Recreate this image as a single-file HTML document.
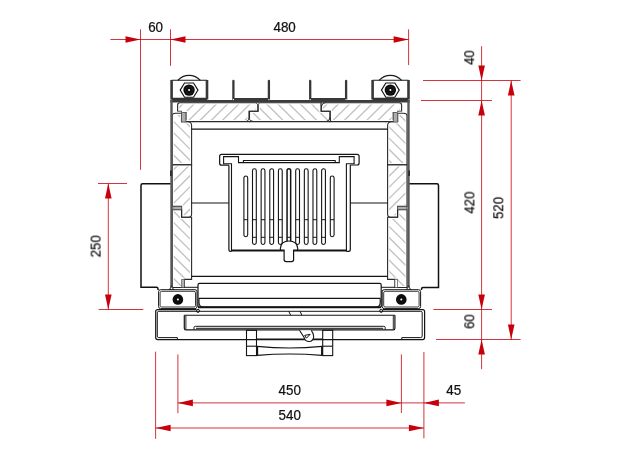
<!DOCTYPE html><html><head><meta charset="utf-8"><style>html,body{margin:0;padding:0;background:#fff;}svg{display:block;font-family:"Liberation Sans",sans-serif;}</style></head><body><svg width="624" height="460" viewBox="0 0 624 460" font-family="Liberation Sans, sans-serif"><defs><clipPath id="c1"><path d="M177.6,111.3 H181.5 V112.6 H186 V121.6 H249 V111.3 H258 V102.8 H180 Q177.6,102.8 177.6,105 Z"/></clipPath><clipPath id="c2"><path d="M258,102.8 H321.2 V111.3 H330 V121.6 H249.5 V111.3 H258 Z"/></clipPath><clipPath id="c3"><path d="M401.6,111.3 H397.7 V112.6 H393.2 V121.6 H330.2 V111.3 H321.2 V102.8 H399.2 Q401.6,102.8 401.6,105 Z"/></clipPath><clipPath id="c4"><path d="M172.2,164.7 V116 Q172.2,113.3 175.5,113.3 H181.5 V121.8 H187.5 Q191.6,121.8 191.6,125.5 V164.7 Z"/></clipPath><clipPath id="c5"><path d="M172.2,164.7 H191.6 V214 Q191.6,217.2 188.5,217.2 H181.6 V206.4 H172.2 Z"/></clipPath><clipPath id="c6"><path d="M172.2,209.7 H181.6 V217.2 H191.6 V279.4 H184.3 V287.5 H172.2 Z"/></clipPath><clipPath id="c7"><path d="M 407.0,164.7 V 116 Q 407.0,113.3 403.7,113.3 H 397.7 V 121.8 H 391.7 Q 387.6,121.8 387.6,125.5 V 164.7 Z"/></clipPath><clipPath id="c8"><path d="M 407.0,164.7 H 387.6 V 214 Q 387.6,217.2 390.7,217.2 H 397.6 V 206.4 H 407.0 Z"/></clipPath><clipPath id="c9"><path d="M 407.0,209.7 H 397.6 V 217.2 H 387.6 V 279.4 H 394.9 V 287.5 H 407.0 Z"/></clipPath></defs><path clip-path="url(#c1)" d="M164.40,100L140.40,124M175.60,100L151.60,124M186.80,100L162.80,124M198.00,100L174.00,124M209.20,100L185.20,124M220.40,100L196.40,124M231.60,100L207.60,124M242.80,100L218.80,124M254.00,100L230.00,124M265.20,100L241.20,124M276.40,100L252.40,124" stroke="#c2c2c2" stroke-width="1.35" fill="none"/>
<path clip-path="url(#c2)" d="M217.90,100L241.90,124M229.10,100L253.10,124M240.30,100L264.30,124M251.50,100L275.50,124M262.70,100L286.70,124M273.90,100L297.90,124M285.10,100L309.10,124M296.30,100L320.30,124M307.50,100L331.50,124M318.70,100L342.70,124M329.90,100L353.90,124" stroke="#c2c2c2" stroke-width="1.35" fill="none"/>
<path clip-path="url(#c3)" d="M319.90,100L295.90,124M331.10,100L307.10,124M342.30,100L318.30,124M353.50,100L329.50,124M364.70,100L340.70,124M375.90,100L351.90,124M387.10,100L363.10,124M398.30,100L374.30,124M409.50,100L385.50,124M420.70,100L396.70,124" stroke="#c2c2c2" stroke-width="1.35" fill="none"/>
<path d="M177.6,111.3 H181.5 V112.6 H186 V121.6 H249 V111.3 H258 V102.8 H180 Q177.6,102.8 177.6,105 Z" stroke="#fff" stroke-width="3.2" fill="none" />
<path d="M258,102.8 H321.2 V111.3 H330 V121.6 H249.5 V111.3 H258 Z" stroke="#fff" stroke-width="3.2" fill="none" />
<path d="M401.6,111.3 H397.7 V112.6 H393.2 V121.6 H330.2 V111.3 H321.2 V102.8 H399.2 Q401.6,102.8 401.6,105 Z" stroke="#fff" stroke-width="3.2" fill="none" />
<path d="M177.6,111.3 H181.5 V112.6 H186 V121.6 H249 V111.3 H258 V102.8 H180 Q177.6,102.8 177.6,105 Z" stroke="#2a2a2a" stroke-width="1.1" fill="none" />
<path d="M258,102.8 H321.2 V111.3 H330 V121.6 H249.5 V111.3 H258 Z" stroke="#2a2a2a" stroke-width="1.1" fill="none" />
<path d="M401.6,111.3 H397.7 V112.6 H393.2 V121.6 H330.2 V111.3 H321.2 V102.8 H399.2 Q401.6,102.8 401.6,105 Z" stroke="#2a2a2a" stroke-width="1.1" fill="none" />
<polygon points="255.6,102.7 260.2,102.7 257.9,104.8" fill="#fff"/>
<path d="M255.8,102.6 L257.9,104.6 L259.9,102.6" stroke="#333" stroke-width="0.9" fill="none" />
<polygon points="246.6,121.1 252.8,121.1 249.0,118.6" fill="#fff"/>
<path d="M246.4,121.3 Q249,120.5 249,118.4 Q249,120.5 252.8,121.3" stroke="#333" stroke-width="0.9" fill="none" />
<polygon points="321.7,102.7 325.4,102.7 321.7,105.6" fill="#fff"/>
<path d="M321.6,106 Q321.8,102.9 325.6,102.6" stroke="#222" stroke-width="1.0" fill="none" />
<polygon points="326.6,121.1 329.9,121.1 329.9,118.0" fill="#fff"/>
<path d="M326.4,121.3 Q329.6,120.9 329.9,117.8 Q330.1,120.9 331.5,121.4" stroke="#222" stroke-width="1.0" fill="none" />
<path clip-path="url(#c4)" d="M106.10,110L163.10,167M117.30,110L174.30,167M128.50,110L185.50,167M139.70,110L196.70,167M150.90,110L207.90,167M162.10,110L219.10,167M173.30,110L230.30,167M184.50,110L241.50,167" stroke="#c2c2c2" stroke-width="1.35" fill="none"/>
<path clip-path="url(#c5)" d="M158.90,162L100.90,220M170.10,162L112.10,220M181.30,162L123.30,220M192.50,162L134.50,220M203.70,162L145.70,220M214.90,162L156.90,220M226.10,162L168.10,220M237.30,162L179.30,220M248.50,162L190.50,220" stroke="#c2c2c2" stroke-width="1.35" fill="none"/>
<path clip-path="url(#c6)" d="M77.70,205L162.70,290M88.90,205L173.90,290M100.10,205L185.10,290M111.30,205L196.30,290M122.50,205L207.50,290M133.70,205L218.70,290M144.90,205L229.90,290M156.10,205L241.10,290M167.30,205L252.30,290M178.50,205L263.50,290M189.70,205L274.70,290" stroke="#c2c2c2" stroke-width="1.35" fill="none"/>
<path clip-path="url(#c7)" d="M316.10,110L373.10,167M327.30,110L384.30,167M338.50,110L395.50,167M349.70,110L406.70,167M360.90,110L417.90,167M372.10,110L429.10,167M383.30,110L440.30,167M394.50,110L451.50,167M405.70,110L462.70,167" stroke="#c2c2c2" stroke-width="1.35" fill="none"/>
<path clip-path="url(#c8)" d="M380.80,162L322.80,220M392.00,162L334.00,220M403.20,162L345.20,220M414.40,162L356.40,220M425.60,162L367.60,220M436.80,162L378.80,220M448.00,162L390.00,220M459.20,162L401.20,220" stroke="#c2c2c2" stroke-width="1.35" fill="none"/>
<path clip-path="url(#c9)" d="M289.25,205L374.25,290M300.45,205L385.45,290M311.65,205L396.65,290M322.85,205L407.85,290M334.05,205L419.05,290M345.25,205L430.25,290M356.45,205L441.45,290M367.65,205L452.65,290M378.85,205L463.85,290M390.05,205L475.05,290M401.25,205L486.25,290" stroke="#c2c2c2" stroke-width="1.35" fill="none"/>
<path d="M172.2,164.7 V116 Q172.2,113.3 175.5,113.3 H181.5 V121.8 H187.5 Q191.6,121.8 191.6,125.5 V164.7 Z" stroke="#fff" stroke-width="3.2" fill="none" />
<path d="M172.2,164.7 H191.6 V214 Q191.6,217.2 188.5,217.2 H181.6 V206.4 H172.2 Z" stroke="#fff" stroke-width="3.2" fill="none" />
<path d="M172.2,209.7 H181.6 V217.2 H191.6 V279.4 H184.3 V287.5 H172.2 Z" stroke="#fff" stroke-width="3.2" fill="none" />
<path d="M 407.0,164.7 V 116 Q 407.0,113.3 403.7,113.3 H 397.7 V 121.8 H 391.7 Q 387.6,121.8 387.6,125.5 V 164.7 Z" stroke="#fff" stroke-width="3.2" fill="none" />
<path d="M 407.0,164.7 H 387.6 V 214 Q 387.6,217.2 390.7,217.2 H 397.6 V 206.4 H 407.0 Z" stroke="#fff" stroke-width="3.2" fill="none" />
<path d="M 407.0,209.7 H 397.6 V 217.2 H 387.6 V 279.4 H 394.9 V 287.5 H 407.0 Z" stroke="#fff" stroke-width="3.2" fill="none" />
<path d="M172.2,164.7 V116 Q172.2,113.3 175.5,113.3 H181.5 V121.8 H187.5 Q191.6,121.8 191.6,125.5 V164.7 Z" stroke="#2a2a2a" stroke-width="1.1" fill="none" />
<path d="M172.2,164.7 H191.6 V214 Q191.6,217.2 188.5,217.2 H181.6 V206.4 H172.2 Z" stroke="#2a2a2a" stroke-width="1.1" fill="none" />
<path d="M172.2,209.7 H181.6 V217.2 H191.6 V279.4 H184.3 V287.5 H172.2 Z" stroke="#2a2a2a" stroke-width="1.1" fill="none" />
<path d="M 407.0,164.7 V 116 Q 407.0,113.3 403.7,113.3 H 397.7 V 121.8 H 391.7 Q 387.6,121.8 387.6,125.5 V 164.7 Z" stroke="#2a2a2a" stroke-width="1.1" fill="none" />
<path d="M 407.0,164.7 H 387.6 V 214 Q 387.6,217.2 390.7,217.2 H 397.6 V 206.4 H 407.0 Z" stroke="#2a2a2a" stroke-width="1.1" fill="none" />
<path d="M 407.0,209.7 H 397.6 V 217.2 H 387.6 V 279.4 H 394.9 V 287.5 H 407.0 Z" stroke="#2a2a2a" stroke-width="1.1" fill="none" />
<line x1="185.8" y1="121.6" x2="194.0" y2="121.6" stroke="#2a2a2a" stroke-width="1.1" />
<line x1="393.4" y1="121.6" x2="385.2" y2="121.6" stroke="#2a2a2a" stroke-width="1.1" />
<rect x="181.6" y="112.4" width="4.2" height="9.6" rx="0" stroke="#555" stroke-width="0.7" fill="#adadad"/>
<rect x="393.4" y="112.4" width="4.2" height="9.6" rx="0" stroke="#555" stroke-width="0.7" fill="#adadad"/>
<rect x="172.8" y="206.6" width="8.8" height="2.8" rx="0" stroke="#555" stroke-width="0.7" fill="#adadad"/>
<rect x="397.6" y="206.6" width="8.8" height="2.8" rx="0" stroke="#555" stroke-width="0.7" fill="#adadad"/>
<rect x="181.7" y="279.6" width="2.6" height="7.8" rx="0" stroke="#555" stroke-width="0.7" fill="#b4b4b4"/>
<rect x="394.9" y="279.6" width="2.6" height="7.8" rx="0" stroke="#555" stroke-width="0.7" fill="#ffffff"/>
<line x1="170.4" y1="101.25" x2="409.6" y2="101.25" stroke="#3c3c3c" stroke-width="2.6" />
<line x1="171.5" y1="100" x2="171.5" y2="289" stroke="#585858" stroke-width="2.4" />
<line x1="408.5" y1="100" x2="408.5" y2="289" stroke="#585858" stroke-width="2.4" />
<line x1="170.9" y1="170.5" x2="170.9" y2="176" stroke="#222" stroke-width="1.6" />
<line x1="409.1" y1="170.5" x2="409.1" y2="176" stroke="#222" stroke-width="1.6" />
<path d="M170.5,183.8 H142.6 Q141,183.8 141,185.4 V287.3 H156.4 Q158,287.3 158,288.9 V290" stroke="#111" stroke-width="1.5" fill="none" />
<path d="M409.5,183.8 H436.9 Q438.5,183.8 438.5,185.4 V287.5 H423.1 Q421.5,287.5 421.5,289.1 V290" stroke="#111" stroke-width="1.5" fill="none" />
<path d="M167.5,289.8 Q170.5,289 170.7,285.5 H172.3 Q172.5,289 175.5,289.8 Z" fill="#333"/>
<circle cx="171.5" cy="288.4" r="0.9" fill="#fff"/>
<path d="M404.5,289.8 Q407.5,289 407.7,285.5 H409.3 Q409.5,289 412.5,289.8 Z" fill="#333"/>
<circle cx="408.5" cy="288.4" r="0.9" fill="#fff"/>
<line x1="171.6" y1="80.3" x2="207.0" y2="80.3" stroke="#1a1a1a" stroke-width="1.1" />
<line x1="171.6" y1="80" x2="171.6" y2="99.5" stroke="#383838" stroke-width="2.6" />
<line x1="207.0" y1="80" x2="207.0" y2="99.5" stroke="#383838" stroke-width="2.6" />
<line x1="171.6" y1="99.0" x2="207.0" y2="99.0" stroke="#333" stroke-width="2.4" />
<path d="M177.8,80.3 A15.2,15.2 0 0 1 200.3,80.3" stroke="#1a1a1a" stroke-width="1.25" fill="none" />
<polygon points="180.15,90.1 184.55,83.0 193.55,83.0 197.95,90.1 193.55,97.2 184.55,97.2" fill="none" stroke="#141414" stroke-width="1.15"/>
<circle cx="189.05" cy="90.1" r="5.7" stroke="#141414" stroke-width="0" fill="#0c0c0c"/>
<circle cx="189.05" cy="90.1" r="3.6" stroke="#2e2e2e" stroke-width="0.5" fill="none"/>
<circle cx="189.05" cy="90.1" r="1.0" stroke="#fff" stroke-width="0" fill="#fff"/>
<line x1="372.6" y1="80.3" x2="408.5" y2="80.3" stroke="#1a1a1a" stroke-width="1.1" />
<line x1="372.6" y1="80" x2="372.6" y2="99.5" stroke="#383838" stroke-width="2.6" />
<line x1="408.5" y1="80" x2="408.5" y2="99.5" stroke="#383838" stroke-width="2.6" />
<line x1="372.6" y1="99.0" x2="408.5" y2="99.0" stroke="#333" stroke-width="2.4" />
<path d="M379.1,80.3 A15.2,15.2 0 0 1 401.6,80.3" stroke="#1a1a1a" stroke-width="1.25" fill="none" />
<polygon points="381.45,90.1 385.85,83.0 394.85,83.0 399.25,90.1 394.85,97.2 385.85,97.2" fill="none" stroke="#141414" stroke-width="1.15"/>
<circle cx="390.35" cy="90.1" r="5.7" stroke="#141414" stroke-width="0" fill="#0c0c0c"/>
<circle cx="390.35" cy="90.1" r="3.6" stroke="#2e2e2e" stroke-width="0.5" fill="none"/>
<circle cx="390.35" cy="90.1" r="1.0" stroke="#fff" stroke-width="0" fill="#fff"/>
<line x1="233.4" y1="81" x2="233.4" y2="99.5" stroke="#383838" stroke-width="2.3" stroke-linecap="round"/>
<line x1="268.9" y1="81" x2="268.9" y2="99.5" stroke="#383838" stroke-width="2.3" stroke-linecap="round"/>
<line x1="310.2" y1="81" x2="310.2" y2="99.5" stroke="#383838" stroke-width="2.3" stroke-linecap="round"/>
<line x1="346.1" y1="81" x2="346.1" y2="99.5" stroke="#383838" stroke-width="2.3" stroke-linecap="round"/>
<line x1="233.4" y1="99.1" x2="268.9" y2="99.1" stroke="#383838" stroke-width="2.1" />
<circle cx="233.4" cy="99.6" r="0.7" fill="#fff"/>
<circle cx="268.9" cy="99.6" r="0.7" fill="#fff"/>
<line x1="310.2" y1="99.1" x2="346.1" y2="99.1" stroke="#383838" stroke-width="2.1" />
<circle cx="310.2" cy="99.6" r="0.7" fill="#fff"/>
<circle cx="346.1" cy="99.6" r="0.7" fill="#fff"/>
<path d="M191.6,129 H387.6" stroke="#141414" stroke-width="1.25" fill="none" />
<line x1="191.6" y1="203" x2="228.9" y2="203" stroke="#141414" stroke-width="1.2" />
<line x1="387.6" y1="203" x2="350.3" y2="203" stroke="#141414" stroke-width="1.2" />
<line x1="191.6" y1="276.4" x2="387.6" y2="276.4" stroke="#141414" stroke-width="1.2" />
<path d="M228.9,165.2 H221.6 Q219.65,165.2 219.65,163.2 V156.3 Q219.65,154.3 221.65,154.3 H357.1 Q359.1,154.3 359.1,156.3 V163 Q359.1,165 357.1,165 H350.3" stroke="#141414" stroke-width="1.2" fill="none" />
<path d="M228.9,165.2 V249.4 Q228.9,251.3 230.8,251.3 H231.6" stroke="#141414" stroke-width="1.2" fill="none" />
<path d="M350.3,165 V249.4 Q350.3,251.3 348.4,251.3 H346.4" stroke="#141414" stroke-width="1.2" fill="none" />
<line x1="231.0" y1="250.5" x2="347.0" y2="250.5" stroke="#141414" stroke-width="1.9" />
<path d="M231.5,250 V163.7 H223.6 V156.6 H238.5 V162.6 H339.3 V156.6 H354.1 V163.8 H346.4 V250" stroke="#141414" stroke-width="1.1" fill="none" />
<path d="M243.4,162.6 V160.4 H335.2 V162.6" stroke="#141414" stroke-width="1.05" fill="none" />
<path d="M243.9,234.79999999999998 V177.9 A1.9,1.9 0 0 1 247.70000000000002,177.9 V234.79999999999998 A1.9,1.9 0 0 1 243.9,234.79999999999998 Z" stroke="#141414" stroke-width="1.1" fill="none" />
<line x1="243.9" y1="219.7" x2="247.70000000000002" y2="219.7" stroke="#141414" stroke-width="1.0" />
<path d="M330.3,234.79999999999998 V177.9 A1.9,1.9 0 0 1 334.1,177.9 V234.79999999999998 A1.9,1.9 0 0 1 330.3,234.79999999999998 Z" stroke="#141414" stroke-width="1.1" fill="none" />
<line x1="330.3" y1="219.7" x2="334.1" y2="219.7" stroke="#141414" stroke-width="1.0" />
<path d="M252.5,242.6 V170.70000000000002 A1.9,1.9 0 0 1 256.3,170.70000000000002 V242.6 A1.9,1.9 0 0 1 252.5,242.6 Z" stroke="#141414" stroke-width="1.1" fill="none" />
<line x1="252.5" y1="219.7" x2="256.3" y2="219.7" stroke="#141414" stroke-width="1.0" />
<line x1="252.5" y1="237.3" x2="256.3" y2="237.3" stroke="#141414" stroke-width="1.0" />
<path d="M261.14,242.6 V170.70000000000002 A1.9,1.9 0 0 1 264.94,170.70000000000002 V242.6 A1.9,1.9 0 0 1 261.14,242.6 Z" stroke="#141414" stroke-width="1.1" fill="none" />
<line x1="261.14" y1="219.7" x2="264.94" y2="219.7" stroke="#141414" stroke-width="1.0" />
<line x1="261.14" y1="237.3" x2="264.94" y2="237.3" stroke="#141414" stroke-width="1.0" />
<path d="M269.78,242.6 V170.70000000000002 A1.9,1.9 0 0 1 273.58,170.70000000000002 V242.6 A1.9,1.9 0 0 1 269.78,242.6 Z" stroke="#141414" stroke-width="1.1" fill="none" />
<line x1="269.78" y1="219.7" x2="273.58" y2="219.7" stroke="#141414" stroke-width="1.0" />
<line x1="269.78" y1="237.3" x2="273.58" y2="237.3" stroke="#141414" stroke-width="1.0" />
<path d="M278.42,242.6 V170.70000000000002 A1.9,1.9 0 0 1 282.22,170.70000000000002 V242.6 A1.9,1.9 0 0 1 278.42,242.6 Z" stroke="#141414" stroke-width="1.1" fill="none" />
<line x1="278.42" y1="219.7" x2="282.22" y2="219.7" stroke="#141414" stroke-width="1.0" />
<line x1="278.42" y1="237.3" x2="282.22" y2="237.3" stroke="#141414" stroke-width="1.0" />
<path d="M287.06,242.7 V170.60000000000002 A1.8,1.8 0 0 1 290.66,170.60000000000002 V242.7 A1.8,1.8 0 0 1 287.06,242.7 Z" stroke="#141414" stroke-width="1.5" fill="none" />
<line x1="287.06" y1="237.3" x2="290.66" y2="237.3" stroke="#141414" stroke-width="1.0" />
<path d="M295.7,242.6 V170.70000000000002 A1.9,1.9 0 0 1 299.5,170.70000000000002 V242.6 A1.9,1.9 0 0 1 295.7,242.6 Z" stroke="#141414" stroke-width="1.1" fill="none" />
<line x1="295.7" y1="219.7" x2="299.5" y2="219.7" stroke="#141414" stroke-width="1.0" />
<line x1="295.7" y1="237.3" x2="299.5" y2="237.3" stroke="#141414" stroke-width="1.0" />
<path d="M304.34,242.6 V170.70000000000002 A1.9,1.9 0 0 1 308.14,170.70000000000002 V242.6 A1.9,1.9 0 0 1 304.34,242.6 Z" stroke="#141414" stroke-width="1.1" fill="none" />
<line x1="304.34" y1="219.7" x2="308.14" y2="219.7" stroke="#141414" stroke-width="1.0" />
<line x1="304.34" y1="237.3" x2="308.14" y2="237.3" stroke="#141414" stroke-width="1.0" />
<path d="M312.98,242.6 V170.70000000000002 A1.9,1.9 0 0 1 316.78000000000003,170.70000000000002 V242.6 A1.9,1.9 0 0 1 312.98,242.6 Z" stroke="#141414" stroke-width="1.1" fill="none" />
<line x1="312.98" y1="219.7" x2="316.78000000000003" y2="219.7" stroke="#141414" stroke-width="1.0" />
<line x1="312.98" y1="237.3" x2="316.78000000000003" y2="237.3" stroke="#141414" stroke-width="1.0" />
<path d="M321.62,242.6 V170.70000000000002 A1.9,1.9 0 0 1 325.42,170.70000000000002 V242.6 A1.9,1.9 0 0 1 321.62,242.6 Z" stroke="#141414" stroke-width="1.1" fill="none" />
<line x1="321.62" y1="219.7" x2="325.42" y2="219.7" stroke="#141414" stroke-width="1.0" />
<line x1="321.62" y1="237.3" x2="325.42" y2="237.3" stroke="#141414" stroke-width="1.0" />
<path d="M284.1,250.2 H281.6 Q280.3,250.2 280.3,248.5 Q281,241 289,241 Q297.1,241 297.8,248.5 Q297.8,250.2 296.5,250.2 H293.6 V259.6 Q293.6,261.6 291.6,261.6 H286.1 Q284.1,261.6 284.1,259.6 Z" stroke="#141414" stroke-width="1.2" fill="#fff" />
<path d="M198,307 V285 Q198,283.4 199.6,283.4 H379.6 Q381.2,283.4 381.2,285 V307" stroke="#141414" stroke-width="1.2" fill="none" />
<path d="M198.8,298.4 H380.4" stroke="#141414" stroke-width="1.1" fill="none" />
<path d="M199,298.4 V302.5 Q199,307 203.5,307 H375.7 Q380.2,307 380.2,302.5 V298.4" stroke="#141414" stroke-width="1.1" fill="none" />
<line x1="198" y1="307.2" x2="381.2" y2="307.2" stroke="#141414" stroke-width="1.9" />
<line x1="184.3" y1="287.3" x2="198" y2="287.3" stroke="#141414" stroke-width="1.0" />
<line x1="394.9" y1="287.3" x2="381.2" y2="287.3" stroke="#141414" stroke-width="1.0" />
<rect x="158.6" y="289.7" width="38.4" height="18.9" rx="2" stroke="#141414" stroke-width="1.0" fill="none"/>
<rect x="160.1" y="291.3" width="35.4" height="15.7" rx="1.5" stroke="#141414" stroke-width="0.85" fill="none"/>
<circle cx="177.9" cy="299.4" r="5.3" stroke="#141414" stroke-width="0" fill="#0c0c0c"/>
<circle cx="177.9" cy="299.4" r="1.0" stroke="#fff" stroke-width="0" fill="#fff"/>
<circle cx="198.0" cy="310.9" r="1.5" stroke="#141414" stroke-width="1.0" fill="none"/>
<rect x="382.2" y="289.7" width="38.4" height="18.9" rx="2" stroke="#141414" stroke-width="1.0" fill="none"/>
<rect x="383.7" y="291.3" width="35.4" height="15.7" rx="1.5" stroke="#141414" stroke-width="0.85" fill="none"/>
<circle cx="401.3" cy="299.4" r="5.3" stroke="#141414" stroke-width="0" fill="#0c0c0c"/>
<circle cx="401.3" cy="299.4" r="1.0" stroke="#fff" stroke-width="0" fill="#fff"/>
<circle cx="381.2" cy="310.9" r="1.5" stroke="#141414" stroke-width="1.0" fill="none"/>
<path d="M196.5,309.6 H157.7 Q155.7,309.6 155.7,311.6 V337.6 Q155.7,339.6 157.7,339.6 H422.6 Q424.6,339.6 424.6,337.6 V311.6 Q424.6,309.6 422.6,309.6 H382.7" stroke="#141414" stroke-width="1.2" fill="none" />
<path d="M177.4,339.2 V337.6 H158.8 Q157.3,337.6 157.3,336.1 V312.8 Q157.3,311.3 158.8,311.3 H420.70000000000005 Q422.20000000000005,311.3 422.20000000000005,312.8 V336.1 Q422.20000000000005,337.6 420.70000000000005,337.6 H401.8 V339.2" stroke="#141414" stroke-width="1.0" fill="none" />
<line x1="184.3" y1="315.3" x2="394.9" y2="315.3" stroke="#141414" stroke-width="1.1" />
<line x1="288.7" y1="311.3" x2="290.7" y2="315.3" stroke="#141414" stroke-width="1.0" />
<line x1="300.0" y1="311.3" x2="301.9" y2="315.3" stroke="#141414" stroke-width="1.0" />
<path d="M184.3,315.3 V328.3 Q184.3,329.9 186,329.9 H393.2 Q394.9,329.9 394.9,328.3 V315.3" stroke="#141414" stroke-width="1.2" fill="none" />
<line x1="185.9" y1="315.6" x2="185.9" y2="329.4" stroke="#141414" stroke-width="0.9" />
<line x1="393.3" y1="315.6" x2="393.3" y2="329.4" stroke="#141414" stroke-width="0.9" />
<path d="M194,329.6 V327.5 Q194,326.3 195.5,326.3 H383.7 Q385.2,326.3 385.2,327.5 V329.6" stroke="#141414" stroke-width="1.0" fill="none" />
<line x1="196" y1="328.3" x2="383.2" y2="328.3" stroke="#141414" stroke-width="1.0" />
<rect x="246.5" y="330.3" width="10.0" height="25.3" rx="0" stroke="#141414" stroke-width="1.1" fill="none"/>
<line x1="246.5" y1="346.2" x2="256.5" y2="346.2" stroke="#141414" stroke-width="1.1" />
<rect x="322.7" y="330.3" width="10.0" height="25.3" rx="0" stroke="#141414" stroke-width="1.1" fill="none"/>
<line x1="322.7" y1="346.2" x2="332.7" y2="346.2" stroke="#141414" stroke-width="1.1" />
<line x1="256.5" y1="339.1" x2="322.7" y2="339.1" stroke="#141414" stroke-width="1.1" />
<line x1="257.2" y1="346" x2="257.2" y2="355.6" stroke="#141414" stroke-width="1.9" />
<line x1="322.0" y1="346" x2="322.0" y2="355.6" stroke="#141414" stroke-width="1.9" />
<path d="M257.2,346.4 Q289.6,349.5 322.0,346.4" stroke="#141414" stroke-width="1.1" fill="none" />
<path d="M257.2,355.4 Q289.6,352.5 322.0,355.4" stroke="#141414" stroke-width="1.1" fill="none" />
<path d="M299.5,330.3 L304.1,337.5 A4.8,4.8 0 0 0 313.6,336 Q313.6,333 311.2,330.3" stroke="#141414" stroke-width="1.1" fill="#fff" />
<polygon points="304.7,335.4 310.1,334.3 306.4,338.2" fill="none" stroke="#111" stroke-width="1.0"/>
<polygon points="308.6,334.6 310.1,334.3 309.3,335.4" fill="#111"/>
<line x1="140.5" y1="29.3" x2="140.5" y2="169.8" stroke="#c8000c" stroke-width="0.8" />
<line x1="170.5" y1="29.3" x2="170.5" y2="65.8" stroke="#c8000c" stroke-width="0.8" />
<line x1="408.6" y1="29.3" x2="408.6" y2="65.1" stroke="#c8000c" stroke-width="0.8" />
<line x1="110.4" y1="39.5" x2="408.6" y2="39.5" stroke="#c8000c" stroke-width="0.8" />
<polygon points="140.5,39.5 125.5,36.2 125.5,42.8" fill="#c8000c"/>
<polygon points="170.5,39.5 185.5,36.2 185.5,42.8" fill="#c8000c"/>
<polygon points="408.6,39.5 393.6,36.2 393.6,42.8" fill="#c8000c"/>
<text x="0" y="0" transform="translate(155.6,31.5) scale(1,1.05)" text-anchor="middle" font-size="13.4" fill="#111" style="will-change:transform" stroke="#111" stroke-width="0.22">60</text>
<text x="0" y="0" transform="translate(284.6,31.6) scale(1,1.05)" text-anchor="middle" font-size="13.4" fill="#111" style="will-change:transform" stroke="#111" stroke-width="0.22">480</text>
<line x1="423" y1="80.5" x2="520.6" y2="80.5" stroke="#c8000c" stroke-width="0.8" />
<line x1="421" y1="100.5" x2="492" y2="100.5" stroke="#c8000c" stroke-width="0.8" />
<line x1="433.4" y1="309.5" x2="492" y2="309.5" stroke="#c8000c" stroke-width="0.8" />
<line x1="436" y1="339.5" x2="520.6" y2="339.5" stroke="#c8000c" stroke-width="0.8" />
<line x1="481.6" y1="46.2" x2="481.6" y2="369.1" stroke="#c8000c" stroke-width="0.8" />
<line x1="511.2" y1="80.5" x2="511.2" y2="339.5" stroke="#c8000c" stroke-width="0.8" />
<polygon points="481.6,80.5 478.3,65.5 484.90000000000003,65.5" fill="#c8000c"/>
<polygon points="481.6,100.5 478.3,115.5 484.90000000000003,115.5" fill="#c8000c"/>
<polygon points="481.6,309.5 478.3,294.5 484.90000000000003,294.5" fill="#c8000c"/>
<polygon points="481.6,339.5 478.3,354.5 484.90000000000003,354.5" fill="#c8000c"/>
<polygon points="511.2,80.5 507.9,95.5 514.5,95.5" fill="#c8000c"/>
<polygon points="511.2,339.5 507.9,324.5 514.5,324.5" fill="#c8000c"/>
<text x="0" y="0" transform="translate(473.8,57.6) rotate(-90) scale(1,1.05)" text-anchor="middle" font-size="13.1" fill="#111" style="will-change:transform" stroke="#111" stroke-width="0.22">40</text>
<text x="0" y="0" transform="translate(474.0,202.6) rotate(-90) scale(1,1.05)" text-anchor="middle" font-size="13.1" fill="#111" style="will-change:transform" stroke="#111" stroke-width="0.22">420</text>
<text x="0" y="0" transform="translate(502.9,207.9) rotate(-90) scale(1,1.05)" text-anchor="middle" font-size="13.1" fill="#111" style="will-change:transform" stroke="#111" stroke-width="0.22">520</text>
<text x="0" y="0" transform="translate(473.9,321.6) rotate(-90) scale(1,1.05)" text-anchor="middle" font-size="13.1" fill="#111" style="will-change:transform" stroke="#111" stroke-width="0.22">60</text>
<line x1="98" y1="183.5" x2="127" y2="183.5" stroke="#c8000c" stroke-width="0.8" />
<line x1="98.7" y1="309.5" x2="143.3" y2="309.5" stroke="#c8000c" stroke-width="0.8" />
<line x1="108.3" y1="183.5" x2="108.3" y2="309.5" stroke="#c8000c" stroke-width="0.8" />
<polygon points="108.3,183.5 105.0,198.5 111.6,198.5" fill="#c8000c"/>
<polygon points="108.3,309.5 105.0,294.5 111.6,294.5" fill="#c8000c"/>
<text x="0" y="0" transform="translate(100.2,246.3) rotate(-90) scale(1,1.05)" text-anchor="middle" font-size="13.1" fill="#111" style="will-change:transform" stroke="#111" stroke-width="0.22">250</text>
<line x1="155.6" y1="351.7" x2="155.6" y2="438.9" stroke="#c8000c" stroke-width="0.8" />
<line x1="177.9" y1="354.4" x2="177.9" y2="413.2" stroke="#c8000c" stroke-width="0.8" />
<line x1="401.4" y1="354.4" x2="401.4" y2="413.0" stroke="#c8000c" stroke-width="0.8" />
<line x1="423.9" y1="351.9" x2="423.9" y2="438.3" stroke="#c8000c" stroke-width="0.8" />
<line x1="177.9" y1="402.9" x2="464.9" y2="402.9" stroke="#c8000c" stroke-width="0.8" />
<line x1="155.6" y1="428.0" x2="423.9" y2="428.0" stroke="#c8000c" stroke-width="0.8" />
<polygon points="177.9,402.9 192.9,399.59999999999997 192.9,406.2" fill="#c8000c"/>
<polygon points="401.4,402.9 386.4,399.59999999999997 386.4,406.2" fill="#c8000c"/>
<polygon points="423.9,402.9 438.9,399.59999999999997 438.9,406.2" fill="#c8000c"/>
<polygon points="155.6,428.0 170.6,424.7 170.6,431.3" fill="#c8000c"/>
<polygon points="423.9,428.0 408.9,424.7 408.9,431.3" fill="#c8000c"/>
<text x="0" y="0" transform="translate(289.7,395.2) scale(1,1.05)" text-anchor="middle" font-size="13.4" fill="#111" style="will-change:transform" stroke="#111" stroke-width="0.22">450</text>
<text x="0" y="0" transform="translate(289.7,420.2) scale(1,1.05)" text-anchor="middle" font-size="13.4" fill="#111" style="will-change:transform" stroke="#111" stroke-width="0.22">540</text>
<text x="0" y="0" transform="translate(453.7,395.2) scale(1,1.05)" text-anchor="middle" font-size="13.4" fill="#111" style="will-change:transform" stroke="#111" stroke-width="0.22">45</text></svg></body></html>
